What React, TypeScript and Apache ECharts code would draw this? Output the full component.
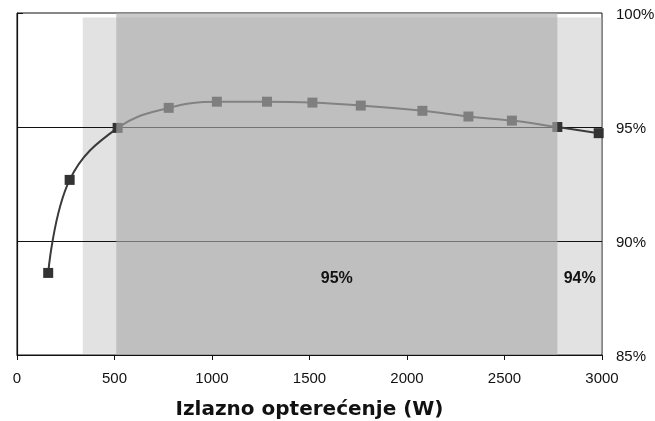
import React, { useEffect, useRef } from "react";
import * as echarts from "echarts";

const loads = [160, 270, 516, 778, 1025, 1282, 1515, 1763, 2079, 2315, 2538, 2771, 2983];
const efficiency = [88.6, 92.68, 94.96, 95.84, 96.11, 96.11, 96.07, 95.94, 95.71, 95.46, 95.28, 95.0, 94.73];
const lightBand = [337, 3000];
const darkBand = [509, 2771];
const bandLabels = ["95%", "94%"];
const xTitle = "Izlazno opterećenje (W)";
const gridLineValues = [90, 95];

export default function App() {
  const ref = useRef<HTMLDivElement>(null);
  useEffect(() => {
    const chart = echarts.init(ref.current!, null, { renderer: "svg" });
    const font = "Liberation Sans, Arial, Helvetica, sans-serif";
    chart.setOption({
      animation: false,
      grid: {
        left: 17,
        top: 13,
        width: 585,
        height: 342,
        show: true,
        borderColor: "#111",
        borderWidth: 1,
        backgroundColor: "transparent",
        containLabel: false,
        outerBoundsMode: "none",
      },
      xAxis: {
        type: "value",
        min: 0,
        max: 3000,
        interval: 500,
        axisLine: { show: true, lineStyle: { color: "#111", width: 1.2 } },
        axisTick: { show: true, length: 5, lineStyle: { color: "#111" } },
        axisLabel: {
          color: "#111",
          fontSize: 15,
          fontFamily: font,
          margin: 15,
          formatter: (v: number) => String(v),
        },
        splitLine: { show: false },
        name: xTitle,
        nameLocation: "middle",
        nameGap: 43,
        nameTextStyle: {
          fontFamily: "DejaVu Sans",
          fontWeight: "bold",
          fontSize: 20,
          color: "#111",
        },
      },
      yAxis: {
        type: "value",
        position: "right",
        min: 85,
        max: 100,
        interval: 5,
        axisLine: { show: true, lineStyle: { color: "#111", width: 1.2 } },
        axisTick: { show: true, length: 6, lineStyle: { color: "#111" } },
        axisLabel: {
          color: "#111",
          fontSize: 15,
          fontFamily: font,
          margin: 14,
          formatter: "{value}%",
        },
        splitLine: { show: false },
      },
      series: [
        {
          type: "line",
          data: [],
          silent: true,
          markArea: {
            z: 1,
            silent: true,
            itemStyle: { color: "#e2e2e2" },
            data: [[{ xAxis: lightBand[0], yAxis: 99.8 }, { xAxis: lightBand[1] - 4, yAxis: 85.06 }]],
          },
        },
        {
          type: "line",
          data: [],
          silent: true,
          markLine: {
            z: 2,
            silent: true,
            symbol: "none",
            label: { show: false },
            lineStyle: { color: "#111", width: 1, type: "solid" },
            data: gridLineValues.map((v) => ({ yAxis: v })),
          },
        },
        {
          type: "line",
          data: loads.map((x, i) => [x, efficiency[i]]),
          z: 3,
          smooth: 0.4,
          symbol: "rect",
          symbolSize: 10,
          lineStyle: { color: "#3a3a3a", width: 2 },
          itemStyle: { color: "#333" },
        },
        {
          type: "line",
          data: [],
          silent: true,
          markArea: {
            z: 4,
            silent: true,
            label: {
              show: true,
              position: "inside",
              offset: [0, 93],
              color: "#111",
              fontWeight: "bold",
              fontSize: 16,
              fontFamily: font,
            },
            data: [
              [
                { xAxis: darkBand[0], yAxis: 100, name: bandLabels[0], itemStyle: { color: "rgba(172,172,172,0.634)" } },
                { xAxis: darkBand[1], yAxis: 85 },
              ],
              [
                { xAxis: darkBand[1], yAxis: 100, name: bandLabels[1], itemStyle: { color: "rgba(0,0,0,0)" } },
                { xAxis: lightBand[1], yAxis: 85 },
              ],
            ],
          },
        },
      ],
    });
    return () => chart.dispose();
  }, []);
  return (
    <div
      ref={ref}
      style={{ position: "fixed", left: 0, top: 0, width: 655, height: 421 }}
    />
  );
}
